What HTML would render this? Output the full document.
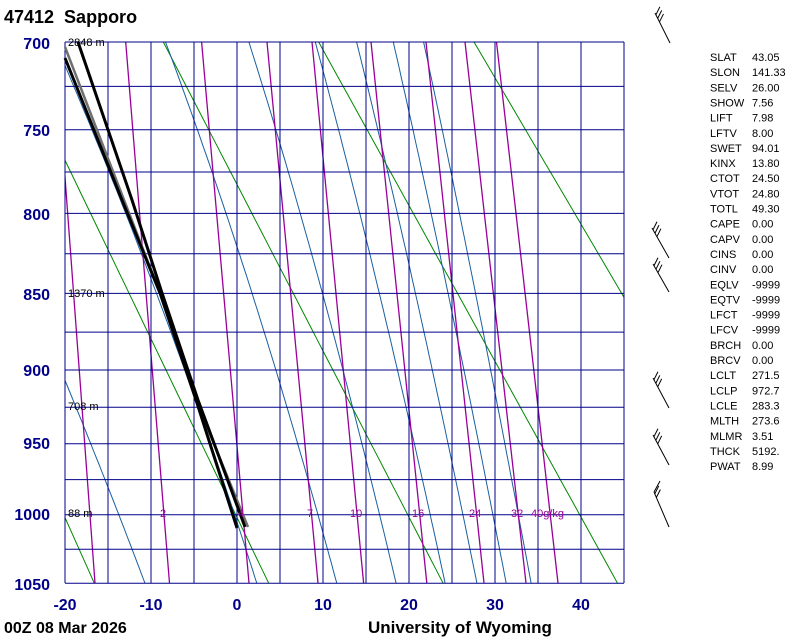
<!DOCTYPE html>
<html><head><meta charset="utf-8">
<style>
html,body{margin:0;padding:0;background:#fff;}
svg{display:block;}
text{font-family:"Liberation Sans",sans-serif;white-space:pre;}
</style></head>
<body>
<svg id="s" width="800" height="640" xmlns="http://www.w3.org/2000/svg">
<defs><clipPath id="c"><rect x="65" y="42" width="559" height="541"/></clipPath></defs>
<g id="bg" clip-path="url(#c)"></g>
<g id="fg"></g>
</svg>
<script>
var NS="http://www.w3.org/2000/svg";
var bg=document.getElementById('bg'),fg=document.getElementById('fg');
function X(T){return 237+8.6*T;}
var k=0.286,p0=Math.pow(700,k);
function Y(p){return 42+676*(Math.pow(p,k)-p0);}
function el(g,n,a,t){var e=document.createElementNS(NS,n);for(var i in a)e.setAttribute(i,a[i]);if(t!=null)e.textContent=t;g.appendChild(e);return e;}
function line(g,x1,y1,x2,y2,c,w){el(g,'line',{x1:x1,y1:y1,x2:x2,y2:y2,stroke:c,'stroke-width':w||1});}
function poly(g,pts,c,w){el(g,'polyline',{points:pts.map(function(p){return p[0].toFixed(1)+','+p[1].toFixed(1)}).join(' '),fill:'none',stroke:c,'stroke-width':w||1,'stroke-linejoin':'round'});}
// dry adiabats
[253,273,293,313,333].forEach(function(th){var pts=[];for(var p=700;p<=1050;p+=10){pts.push([X(th*Math.pow(p/1000,k)-273.15),Y(p)]);}poly(bg,pts,'#008800',1);});
// moist adiabats
function es(T){return 6.112*Math.exp(17.67*T/(T+243.5));}
[-10.7,2.3,11.6,18.5,24.2,27.9,31.3,34.2].forEach(function(T0){var T=T0,pts=[[X(T),Y(1050)]];for(var p=1050;p>700;p-=1){var Tk=T+273.15,e=es(T),rs=0.622*e/(p-e);var d=(287*Tk+2.5e6*rs)/(p*(1004+2.5e6*2.5e6*rs*0.622/(287*Tk*Tk)));T-=d*1.03;if((p-1)%5==0)pts.push([X(T),Y(p-1)]);}poly(bg,pts,'#1a5fa0',1);});
// mixing ratio
[[95,55],[169.5,125.7],[249,201.6],[318,267],[363.6,312],[426.8,371],[484,426],[526,465],[558,496.5]].forEach(function(m){line(bg,m[0],583,m[1],42,'#990099',1.3);});
// grid
for(var p=700;p<=1050;p+=25){var y=Y(p);line(fg,65,y,624,y,'#000088',1);}
for(var T=-20;T<=45;T+=5){line(fg,X(T),42,X(T),583,'#000088',1);}
// soundings
poly(fg,[[65,47],[124,200],[160,293],[196,400],[248,527]],'#707070',2.5);
poly(fg,[[65,58],[122,200],[160,293],[196,400],[237,528]],'#000',3);
poly(fg,[[78,42],[132,200],[162,293],[198,400],[245,527]],'#000',3);
// labels
function tx(x,y,s,a){var o={x:x,y:y,'font-size':a.fs||11,fill:a.c||'#000'};if(a.b)o['font-weight']='bold';if(a.anc)o['text-anchor']=a.anc;el(fg,'text',o,s);}
tx(4,23,'47412  Sapporo',{fs:18,b:1});
[[700,42],[750,129],[800,213],[850,293],[900,369],[950,442],[1000,513],[1050,583]].forEach(function(q){tx(50,q[1]+7,String(q[0]),{fs:16,b:1,c:'#000088',anc:'end'});});
[-20,-10,0,10,20,30,40].forEach(function(T){tx(X(T),610,String(T),{fs:16,b:1,c:'#000088',anc:'middle'});});
tx(4,633,'00Z 08 Mar 2026',{fs:16,b:1});
tx(368,633,'University of Wyoming',{fs:17,b:1});
tx(68,46,'2848 m',{});tx(68,297,'1370 m',{});tx(68,410,'708 m',{});tx(68,517,'88 m',{});
[[160,'2'],[238,'4'],[307,'7'],[350,'10'],[412,'16'],[469,'24'],[511,'32'],[531,'40g/kg']].forEach(function(m){tx(m[0],517,m[1],{c:'#990099'});});
var idx=[['SLAT','43.05'],['SLON','141.33'],['SELV','26.00'],['SHOW','7.56'],['LIFT','7.98'],['LFTV','8.00'],['SWET','94.01'],['KINX','13.80'],['CTOT','24.50'],['VTOT','24.80'],['TOTL','49.30'],['CAPE','0.00'],['CAPV','0.00'],['CINS','0.00'],['CINV','0.00'],['EQLV','-9999'],['EQTV','-9999'],['LFCT','-9999'],['LFCV','-9999'],['BRCH','0.00'],['BRCV','0.00'],['LCLT','271.5'],['LCLP','972.7'],['LCLE','283.3'],['MLTH','273.6'],['MLMR','3.51'],['THCK','5192.'],['PWAT','8.99']];
idx.forEach(function(r,i){var y=61+i*15.15;tx(710,y,r[0],{});tx(752,y,r[1],{});});
// barbs
function barb(x1,y1,x2,y2,n){line(fg,x1,y1,x2,y2,'#000',1);var dx=x2-x1,dy=y2-y1,L=Math.hypot(dx,dy),ux=dx/L,uy=dy/L;for(var i=0;i<n;i++){var bx=x1+ux*(i*4+2),by=y1+uy*(i*4+2);line(fg,bx,by,bx+4,by-8,'#000',1);}}
barb(655,13,670,43,3);barb(652,228,669,258,3);barb(653,264,669,292,3);barb(653,378,669,408,3);barb(653,435,669,465,3);
barb(654,492,669,527,2);line(fg,654,492,660,481,'#000',1);
</script>
</body></html>
